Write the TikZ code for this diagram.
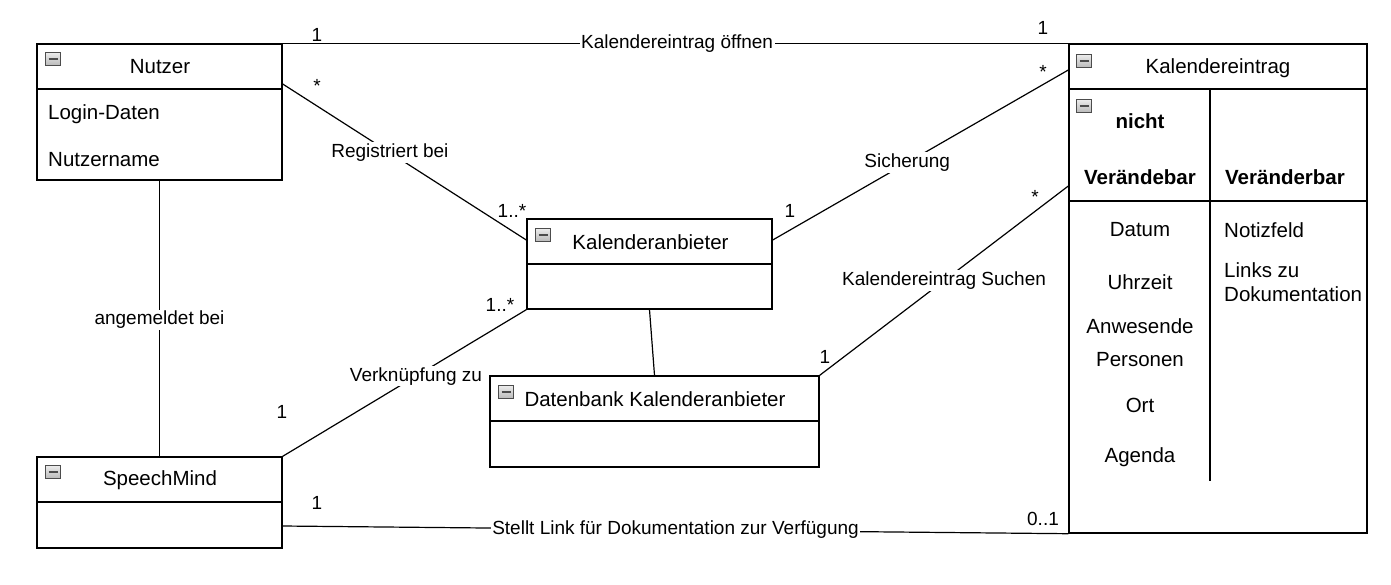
\documentclass[tikz,border=0pt]{standalone}
\usepackage{fontspec}
\setmainfont{Liberation Sans}
\usetikzlibrary{positioning, calc}

\begin{document}
\begin{tikzpicture}[x=1pt, y=-1pt,
  clsbox/.style={draw, line width=1.4pt, inner sep=0pt, fill=white},
  sep/.style={line width=1.4pt},
  conn/.style={line width=1.2pt},
  clstext/.style={font=\fontsize{20.5}{24}\selectfont, inner sep=0pt},
  attr/.style={clstext, anchor=west},
  lbl/.style={fill=white, inner sep=1.5pt, font=\fontsize{19}{22}\selectfont},
  mult/.style={inner sep=0pt, font=\fontsize{19}{22}\selectfont},
  minusicon/.style={draw=gray!60!black, top color=gray!15, bottom color=gray!55, line width=0.8pt,
                    minimum width=15pt, minimum height=13pt, inner sep=0pt,
                    path picture={\draw[line width=2pt]
                      ([xshift=3pt]path picture bounding box.west) --
                      ([xshift=-3pt]path picture bounding box.east);}}
]
\useasboundingbox (0,0) rectangle (1391,584);

% classes
\node[clsbox, minimum width=245pt, minimum height=136pt] (nutzer)  at (159.5,112)   {};
\node[clsbox, minimum width=298pt, minimum height=489pt] (eintrag) at (1218,288.5)  {};
\node[clsbox, minimum width=245pt, minimum height=90pt]  (anbieter) at (649.5,264)  {};
\node[clsbox, minimum width=329pt, minimum height=91pt]  (dbank)   at (654.5,421.5) {};
\node[clsbox, minimum width=245pt, minimum height=91pt]  (speech)  at (159.5,502.5) {};

% compartments
\draw[sep] (nutzer.west |- 0,89) -- (nutzer.east |- 0,89);
\draw[sep] (eintrag.west |- 0,89) -- (eintrag.east |- 0,89);
\draw[sep] (eintrag.west |- 0,201) -- (eintrag.east |- 0,201);
\draw[sep] (1210,89) -- (1210,481);
\draw[sep] (anbieter.west |- 0,264) -- (anbieter.east |- 0,264);
\draw[sep] (dbank.west |- 0,421) -- (dbank.east |- 0,421);
\draw[sep] (speech.west |- 0,502) -- (speech.east |- 0,502);

% icons
\node[minusicon] (ic1) at (53,59)    {};
\node[minusicon] (ic2) at (1084,61)  {};
\node[minusicon] (ic3) at (1084,106) {};
\node[minusicon] (ic4) at (543,235)  {};
\node[minusicon] (ic5) at (506,392)  {};
\node[minusicon] (ic6) at (53,472)   {};

% titles
\node[clstext] (tnutzer)   at (160,67)   {Nutzer};
\node[clstext] (teintrag)  at (1218,68)  {Kalendereintrag};
\node[clstext] (tanbieter) at (650.5,242) {Kalenderanbieter};
\node[clstext] (tdbank)    at (655,399)  {Datenbank Kalenderanbieter};
\node[clstext] (tspeech)   at (160,480)  {SpeechMind};

% attributes
\node[attr] (login) at (48,114) {Login-Daten};
\node[attr] (uname) at (48,160) {Nutzername};

\node[clstext, font=\fontsize{20.5}{24}\selectfont\bfseries] (nicht)  at (1140,121) {nicht};
\node[clstext, font=\fontsize{20.5}{24}\selectfont\bfseries] (nvbar)  at (1140,177) {Verändebar};
\node[clstext, font=\fontsize{20.5}{24}\selectfont\bfseries] (vbar)   at (1285,177) {Veränderbar};
\node[clstext] (datum)  at (1140,230) {Datum};
\node[clstext] (uhr)    at (1140,282) {Uhrzeit};
\node[clstext] (anw)    at (1140,326) {Anwesende};
\node[clstext] (pers)   at (1140,360) {Personen};
\node[clstext] (ort)    at (1140,405) {Ort};
\node[clstext] (agenda) at (1140,457) {Agenda};
\node[attr] (notiz) at (1224,230) {Notizfeld};
\node[attr] (links) at (1224,270) {Links zu};
\node[attr] (doku)  at (1224,294) {Dokumentation};

% associations
\draw[conn] (nutzer.north east) -- node[lbl, pos=0.502] (aoeffnen) {Kalendereintrag öffnen} (eintrag.north west);
\draw[conn] (nutzer.east |- 0,84) -- node[lbl, pos=0.44] (aregist) {Registriert bei} (anbieter.west |- 0,240);
\draw[conn] (anbieter.east |- 0,240) -- node[lbl, pos=0.455] (asicher) {Sicherung} (eintrag.west |- 0,70);
\draw[conn] (dbank.north east) -- node[lbl, pos=0.5] (asuchen) {Kalendereintrag Suchen} (eintrag.west |- 0,186);
\draw[conn] (nutzer.south) -- node[lbl, pos=0.505] (aangem) {angemeldet bei} (speech.north);
\draw[conn] (speech.north east) -- node[lbl, pos=0.547] (averkn) {Verknüpfung zu} (anbieter.south west);
\draw[conn] (anbieter.south) -- (dbank.north);
\draw[conn] (speech.east |- 0,526) -- node[lbl, pos=0.5] (alink) {Stellt Link für Dokumentation zur Verfügung} (eintrag.south west);

% multiplicities
\node[mult] (m1)  at (317,35)   {1};
\node[mult] (m2)  at (1043,28)  {1};
\node[mult] (m3)  at (317,86)   {*};
\node[mult] (m4)  at (512,211)  {1..*};
\node[mult] (m5)  at (790,211)  {1};
\node[mult] (m6)  at (1043,72)  {*};
\node[mult] (m7)  at (825,357)  {1};
\node[mult] (m8)  at (1035,197) {*};
\node[mult] (m9)  at (282,412)  {1};
\node[mult] (m10) at (500,305)  {1..*};
\node[mult] (m11) at (317,503)  {1};
\node[mult] (m12) at (1043,519) {0..1};
\end{tikzpicture}
\end{document}
